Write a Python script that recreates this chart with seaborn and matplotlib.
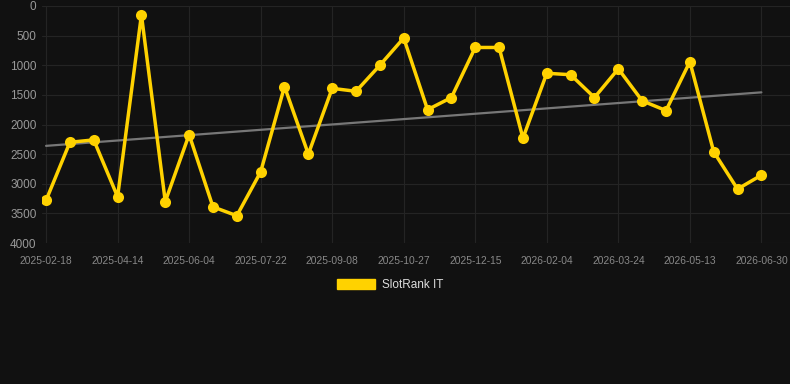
import numpy as np
import pandas as pd
import seaborn as sns
import matplotlib.pyplot as plt
from matplotlib.patches import Patch

# rank values (lower is better), one point per snapshot
ranks = [3280, 2300, 2260, 3220, 150, 3300, 2170, 3390, 3540, 2800,
         1360, 2500, 1390, 1440, 1000, 540, 1750, 1545, 700, 700,
         2230, 1135, 1160, 1545, 1060, 1600, 1765, 940, 2460, 3090,
         2855]
tick_labels = ['2025-02-18', '2025-04-14', '2025-06-04', '2025-07-22',
               '2025-09-08', '2025-10-27', '2025-12-15', '2026-02-04',
               '2026-03-24', '2026-05-13', '2026-06-30']
series_name = 'SlotRank IT'

df = pd.DataFrame({'idx': range(len(ranks)), 'rank': ranks})

bg = '#111111'
gold = '#FFD200'

sns.set_style('dark')
plt.rcParams['font.family'] = ['Liberation Sans', 'DejaVu Sans']

fig = plt.figure(figsize=(7.9, 3.84), dpi=100, facecolor=bg)
ax = fig.add_axes([42 / 790, 1 - 243 / 384, 748 / 790, 237 / 384])
ax.set_facecolor(bg)

# trend line
sns.regplot(data=df, x='idx', y='rank', scatter=False, ci=None, ax=ax,
            line_kws={'color': '#777777', 'lw': 1.6})

sns.lineplot(data=df, x='idx', y='rank', ax=ax, color=gold, lw=2.5,
             marker='o', markersize=8, markeredgewidth=0)

ax.set_ylim(4000, 0)
ax.set_xlim(-0.17, 31.2)
ax.set_yticks([0, 500, 1000, 1500, 2000, 2500, 3000, 3500, 4000])
ax.set_xticks(range(0, len(ranks), 3))
ax.set_xticklabels(tick_labels)
ax.tick_params(axis='y', labelsize=8.5, colors='#999999', length=0, pad=4)
ax.tick_params(axis='x', labelsize=7.4, colors='#888888', length=0, pad=9)
ax.grid(True, color='#242424', lw=0.8)
for s in ax.spines.values():
    s.set_visible(False)
ax.set_xlabel('')
ax.set_ylabel('')

fig.legend(handles=[Patch(facecolor=gold, edgecolor=gold, label=series_name)],
           loc='center', bbox_to_anchor=(390 / 790, 1 - 285 / 384),
           frameon=False, fontsize=8.5, labelcolor='#dddddd',
           handlelength=3.2, handleheight=0.9, handletextpad=0.6)

fig.savefig('out.png', dpi=100, facecolor=bg)
